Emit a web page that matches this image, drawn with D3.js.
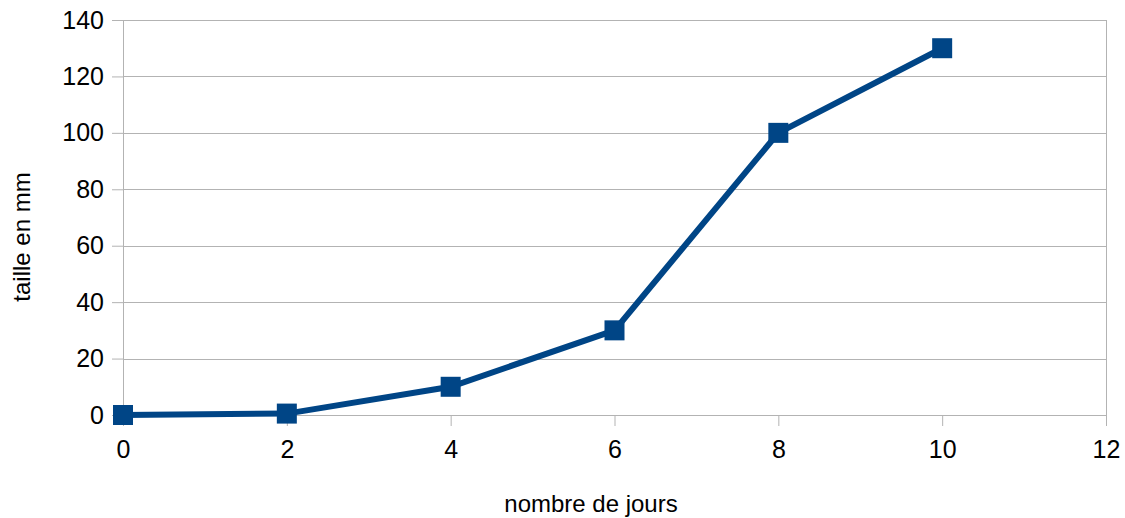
<!DOCTYPE html>
<html><head><meta charset="utf-8">
<script src="https://cdn.jsdelivr.net/npm/d3@7"></script>
<style>body{margin:0;background:#fff}svg{display:block}text{font-family:"Liberation Sans",Arial,sans-serif;fill:#000}</style>
</head><body>
<svg id="c" width="1125" height="518"></svg>
<script>
const days = [0, 2, 4, 6, 8, 10];
const sizes = [0, 0.5, 10, 30, 100, 130];
const xTicks = [0, 2, 4, 6, 8, 10, 12];
const yTicks = [0, 20, 40, 60, 80, 100, 120, 140];
const xTitle = "nombre de jours";
const yTitle = "taille en mm";

const svg = d3.select("#c");
const L = 123, R = 1106, T = 20, B = 415;
const x = d3.scaleLinear().domain([0, 12]).range([L, R]);
const y = d3.scaleLinear().domain([0, 140]).range([B, T]);
const grid = "#b3b3b3";

svg.append("g").selectAll("line").data(yTicks).join("line")
  .attr("x1", L).attr("x2", R).attr("y1", d => Math.round(y(d)) + 0.5).attr("y2", d => Math.round(y(d)) + 0.5)
  .attr("stroke", grid).attr("stroke-width", 1);
svg.append("rect").attr("x", L + 0.5).attr("y", T + 0.5).attr("width", R - L).attr("height", B - T)
  .attr("fill", "none").attr("stroke", grid).attr("stroke-width", 1);

const yAxis = svg.append("g").attr("transform", `translate(${L},0)`)
  .call(d3.axisLeft(y).tickValues(yTicks).tickSize(11).tickPadding(8).tickFormat(d3.format("d")));
const xAxis = svg.append("g").attr("transform", `translate(0,${B})`)
  .call(d3.axisBottom(x).tickValues(xTicks).tickSize(11).tickPadding(14).tickFormat(d3.format("d")));
[yAxis, xAxis].forEach(a => {
  a.select(".domain").remove();
  a.selectAll(".tick line").attr("stroke", grid).attr("stroke-width", 1);
  a.selectAll("text").attr("font-size", 25).attr("font-family", '"Liberation Sans", Arial, sans-serif').attr("fill", "#000");
});

const line = d3.line().x((d, i) => x(days[i])).y(d => y(d));
svg.append("path").datum(sizes).attr("d", line).attr("fill", "none")
  .attr("stroke", "#004586").attr("stroke-width", 6).attr("stroke-linejoin", "miter");

const m = 20;
svg.append("g").selectAll("rect").data(sizes).join("rect")
  .attr("x", (d, i) => x(days[i]) - m / 2).attr("y", d => y(d) - m / 2)
  .attr("width", m).attr("height", m).attr("fill", "#004586");

svg.append("text").attr("x", 591).attr("y", 512).attr("text-anchor", "middle")
  .attr("font-size", 24).text(xTitle);
svg.append("text").attr("transform", "translate(30,237) rotate(-90)").attr("text-anchor", "middle")
  .attr("font-size", 24).text(yTitle);
</script>
</body></html>
